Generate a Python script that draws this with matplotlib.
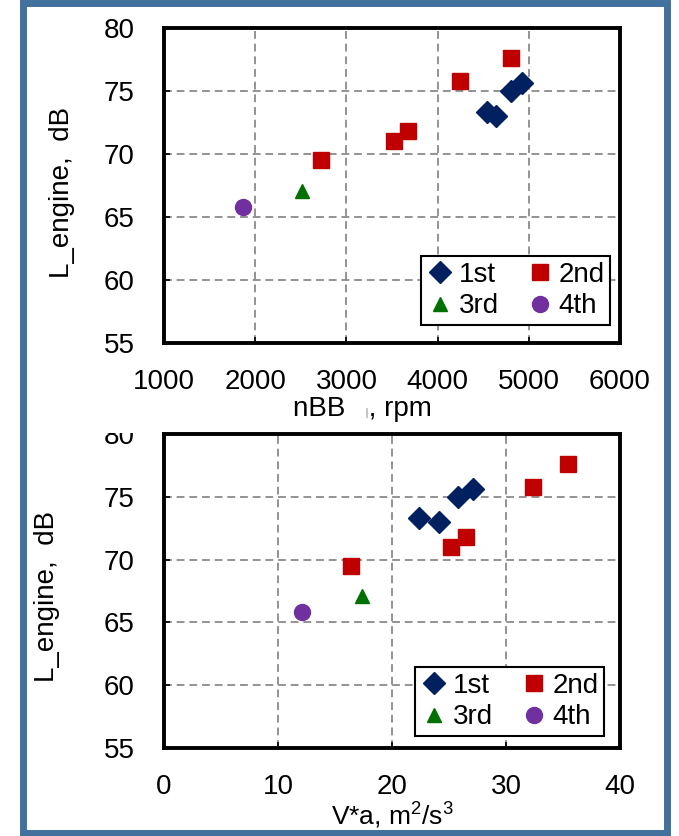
import matplotlib
matplotlib.use("Agg")
import matplotlib.pyplot as plt
from matplotlib.patches import Rectangle
from matplotlib.lines import Line2D

plt.rcParams['font.family'] = ['Liberation Sans', 'DejaVu Sans']
plt.rcParams['mathtext.fontset'] = 'custom'
plt.rcParams['mathtext.rm'] = 'Liberation Sans'
plt.rcParams['mathtext.it'] = 'Liberation Sans'

# === Dati ===
gears = ["1st", "2nd", "3rd", "4th"]
colors = ["#002060", "#C00000", "#007000", "#7030A0"]
markers = ["D", "s", "^", "o"]
msizes = [11, 12, 10, 11.5]

# rpm (nBB) per marcia
rpm_1st = [4540, 4640, 4800, 4920]
rpm_2nd = [2725, 3527, 3670, 4250, 4800]
rpm_3rd = [2516]
rpm_4th = [1870]

# V*a per marcia
va_1st = [22.4, 24.1, 25.8, 27.1]
va_2nd = [16.4, 25.2, 26.5, 32.4, 35.4]
va_3rd = [17.4]
va_4th = [12.1]

# livello L_engine (stesso per entrambi i grafici)
L_1st = [73.3, 73.0, 75.0, 75.6]
L_2nd = [69.5, 71.0, 71.8, 75.8, 77.6]
L_3rd = [67.1]
L_4th = [65.8]

x_top = [rpm_1st, rpm_2nd, rpm_3rd, rpm_4th]
x_bot = [va_1st, va_2nd, va_3rd, va_4th]
ys = [L_1st, L_2nd, L_3rd, L_4th]

W, H = 679, 836
fig = plt.figure(figsize=(W / 100, H / 100), dpi=100)

# cornice blu esterna
fig.patches.append(Rectangle((23 / W, 3 / H), 644 / W, 830 / H, transform=fig.transFigure,
                             fill=False, edgecolor="#41719C", linewidth=5))

ax1 = fig.add_axes([164 / W, 1 - 343 / H, 456 / W, 315 / H])
ax2 = fig.add_axes([164 / W, 1 - 748 / H, 456 / W, 314 / H])
ax1.set_zorder(2)


def disegna(ax, xs, xlim, xticks, leg_anchor, ylab_xy):
    hs = []
    for xv, yv, c, m, ms, g in zip(xs, ys, colors, markers, msizes, gears):
        h, = ax.plot(xv, yv, linestyle="none", marker=m, color=c, markersize=ms,
                     markeredgecolor=c, label=g, zorder=3)
        hs.append(h)
    ax.set_xlim(*xlim)
    ax.set_ylim(55, 80)
    ax.set_xticks(xticks)
    ax.set_yticks([55, 60, 65, 70, 75, 80])
    ax.grid(True, color="#858585", linestyle=(0, (4.5, 2.8)), linewidth=1.25)
    ax.set_axisbelow(True)
    for s in ax.spines.values():
        s.set_linewidth(2.8)
    ax.tick_params(direction="in", length=4, width=1.2, pad=19, labelsize=20)
    ax.tick_params(axis="y", pad=21)
    ax.set_ylabel("L_engine,  dB", fontsize=20)
    ax.yaxis.set_label_coords(*ylab_xy)
    # ordine legenda: riga 1 = 1st, 2nd ; riga 2 = 3rd, 4th
    order = [0, 2, 1, 3]
    leg = ax.legend([hs[i] for i in order], [gears[i] for i in order],
                    loc="lower right", bbox_to_anchor=leg_anchor, borderaxespad=0,
                    ncol=2, fontsize=20, frameon=True, fancybox=False,
                    edgecolor="black", framealpha=1, handletextpad=0.15,
                    columnspacing=1.0, handlelength=1.0, borderpad=0.2,
                    labelspacing=0.2)
    leg.get_frame().set_linewidth(1.5)


disegna(ax1, x_top, (1000, 6000), [1000, 2000, 3000, 4000, 5000, 6000],
        (1 - 10 / 456, 18 / 315), (-0.195, 0.478))
disegna(ax2, x_bot, (0, 40), [0, 10, 20, 30, 40],
        (1 - 16 / 456, 12 / 314), (-0.228, 0.484))

# etichetta asse x superiore (con piccolo segno grigio dopo "nBB")
ax1.text(0.436, -0.21, "nBB   , rpm", transform=ax1.transAxes, fontsize=20,
         ha="center", va="center")
fig.add_artist(Line2D([367 / W, 367 / W], [1 - 409 / H, 1 - 417 / H],
                      color="#BBBBBB", linewidth=1.2))

# copre la parte alta del "80" del grafico inferiore
ax1.add_patch(Rectangle((95 / W, 1 - 433 / H), 60 / W, 14 / H, transform=fig.transFigure,
                        facecolor="white", edgecolor="none", clip_on=False, zorder=10))

ax2.set_xlabel(r"V*a, m$^2$/s$^3$", fontsize=19)
ax2.xaxis.set_label_coords(0.5, -0.168)

fig.savefig("out.png", dpi=100)
